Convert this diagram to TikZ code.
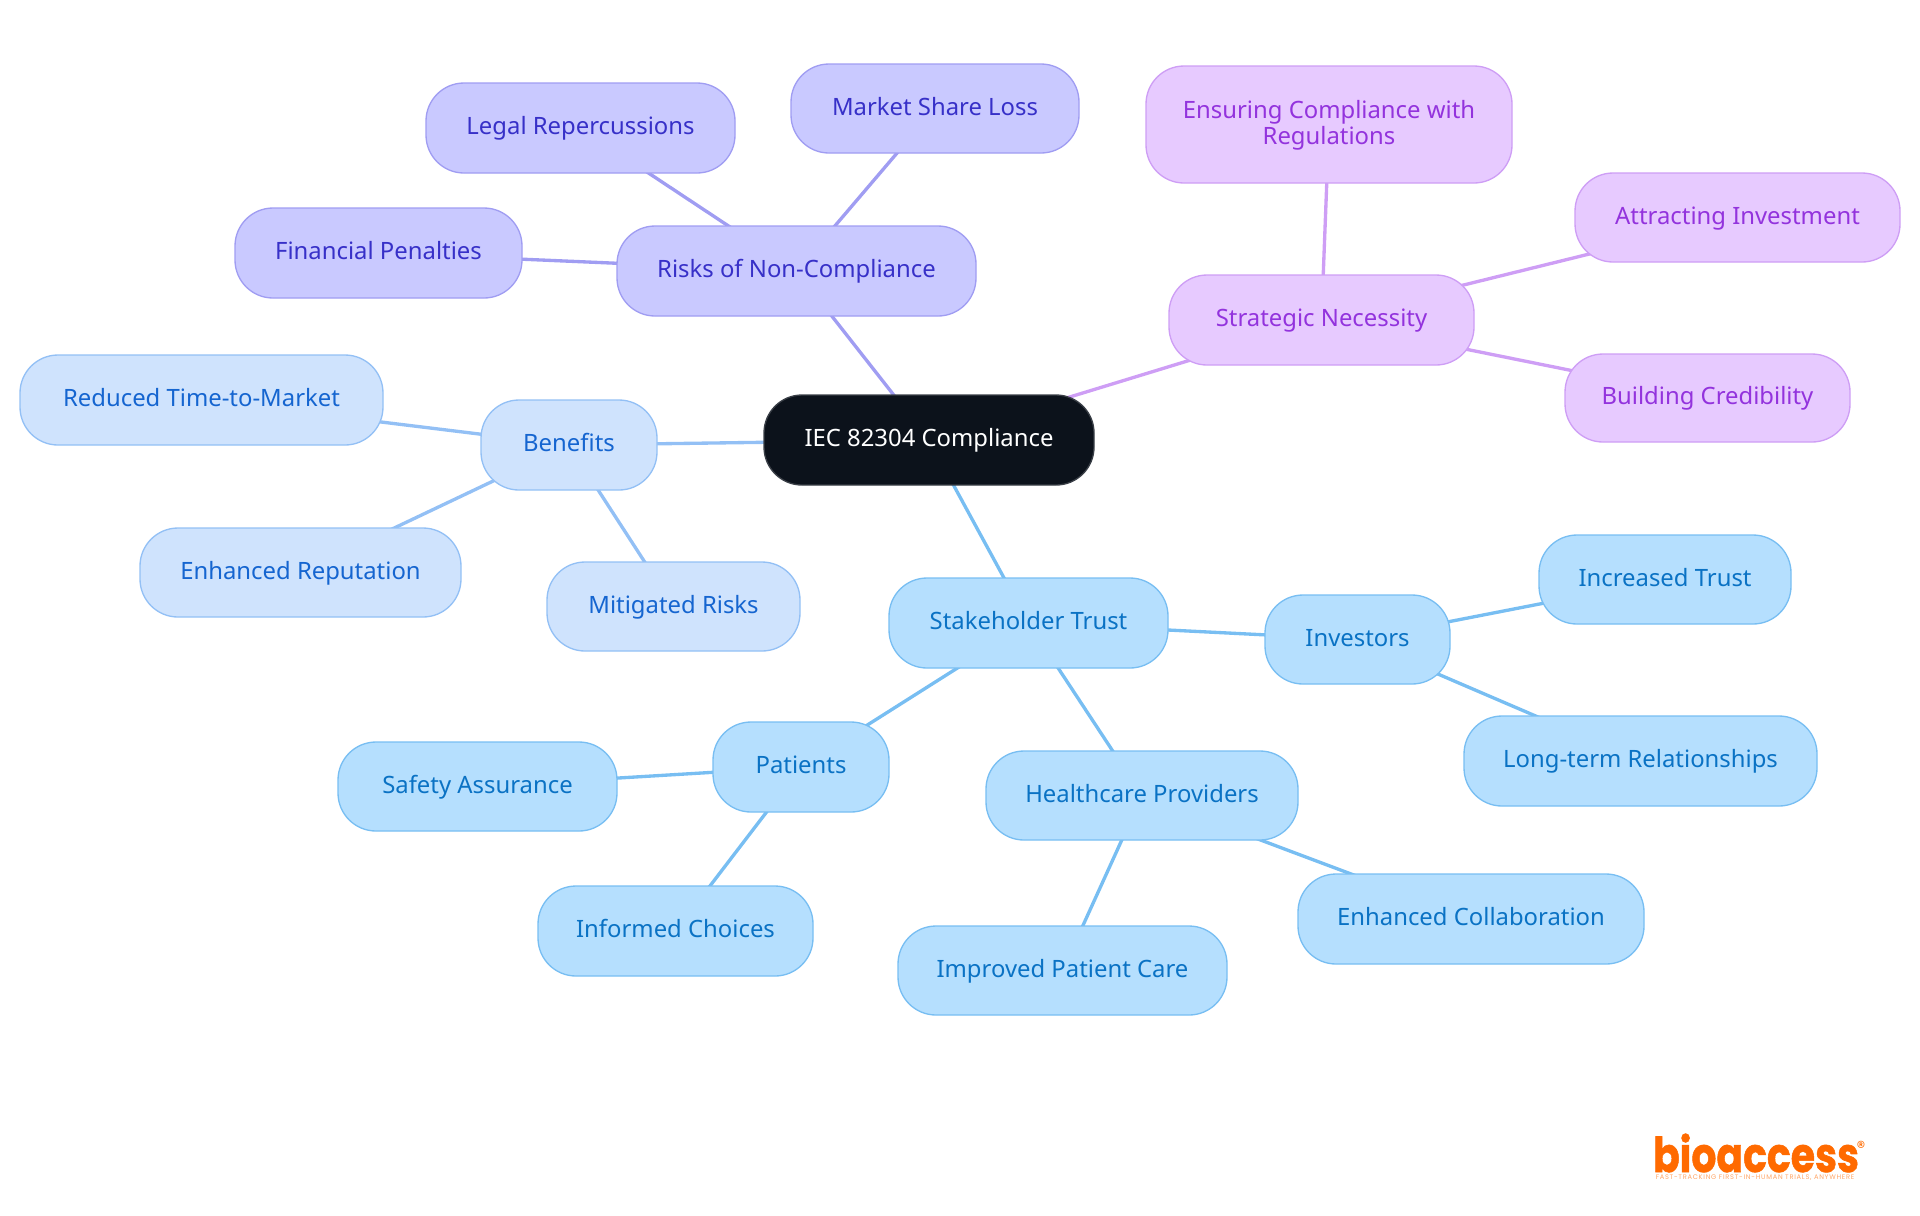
\documentclass[tikz,border=0pt]{standalone}
\usepackage{fontspec}
\setmainfont{Noto Sans}
\newfontfamily\logofont[FakeBold=1.2]{Poppins}
\newfontfamily\tagfont[LetterSpace=11]{Poppins}
\usetikzlibrary{backgrounds}
\definecolor{rootfill}{HTML}{0C121B}
\definecolor{rootline}{HTML}{3A3F47}
\definecolor{vfill}{HTML}{C9C9FF}
\definecolor{vline}{HTML}{A09DF2}
\definecolor{vtext}{HTML}{3730C8}
\definecolor{pfill}{HTML}{E7CAFF}
\definecolor{pline}{HTML}{CE9EF5}
\definecolor{ptext}{HTML}{9333DD}
\definecolor{bfill}{HTML}{CFE3FD}
\definecolor{bline}{HTML}{93C0F5}
\definecolor{btext}{HTML}{1565D0}
\definecolor{sfill}{HTML}{B5DFFE}
\definecolor{sline}{HTML}{78BEF2}
\definecolor{stext}{HTML}{0A72C4}
\definecolor{logoor}{HTML}{FF6A00}
\tikzset{
  x=0.75pt,y=-0.75pt,
  mm/.style={rectangle,rounded corners=28.5pt,line width=1pt,outer sep=0pt,inner sep=0pt,align=center,
    font=\fontsize{17.9}{19.5}\selectfont},
  oneline/.style={text height=13pt,text depth=3pt},
  rootn/.style={mm,oneline,fill=rootfill,draw=rootline,text=white},
  vn/.style={mm,oneline,fill=vfill,draw=vline,text=vtext},
  pn/.style={mm,oneline,fill=pfill,draw=pline,text=ptext},
  pntwo/.style={mm,fill=pfill,draw=pline,text=ptext},
  bn/.style={mm,oneline,fill=bfill,draw=bline,text=btext},
  sn/.style={mm,oneline,fill=sfill,draw=sline,text=stext},
  ve/.style={draw=vline,line width=2.5pt},
  pe/.style={draw=pline,line width=2.5pt},
  be/.style={draw=bline,line width=2.5pt},
  se/.style={draw=sline,line width=2.5pt},
}
\newcommand{\nd}[7]{%
  \pgfmathsetlengthmacro{\nw}{0.75pt*(#4-#2)}%
  \pgfmathsetlengthmacro{\nh}{0.75pt*(#5-#3)}%
  \node[#7,minimum width=\nw,minimum height=\nh] (#1) at ({(#2+#4)/2},{(#3+#5)/2}) {#6};%
}
\begin{document}
\begin{tikzpicture}
\useasboundingbox (0,0) rectangle (1920,1215);
\nd{root}{764}{395}{1094}{485}{IEC 82304 Compliance}{rootn}
\nd{risks}{617}{226}{976}{316}{Risks of Non-Compliance}{vn}
\nd{market}{791}{64}{1079}{153}{Market Share Loss}{vn}
\nd{legal}{426}{83}{735}{173}{Legal Repercussions}{vn}
\nd{fin}{235}{208}{522}{298}{Financial Penalties}{vn}
\nd{ens}{1146}{66}{1512}{183}{\rule{0pt}{14.5pt}Ensuring Compliance with\\Regulations}{pntwo}
\nd{strat}{1169}{275}{1474}{365}{Strategic Necessity}{pn}
\nd{attr}{1575}{173}{1900}{262}{Attracting Investment}{pn}
\nd{build}{1565}{354}{1850}{442}{Building Credibility}{pn}
\nd{ben}{481}{400}{657}{490}{Benefits}{bn}
\nd{red}{20}{355}{383}{445}{Reduced Time-to-Market}{bn}
\nd{rep}{140}{528}{461}{617}{Enhanced Reputation}{bn}
\nd{mit}{547}{562}{800}{651}{Mitigated Risks}{bn}
\nd{stake}{889}{578}{1168}{668}{Stakeholder Trust}{sn}
\nd{inv}{1265}{595}{1450}{684}{Investors}{sn}
\nd{inc}{1539}{535}{1791}{624}{Increased Trust}{sn}
\nd{long}{1464}{716}{1817}{806}{Long-term Relationships}{sn}
\nd{pat}{713}{722}{889}{812}{Patients}{sn}
\nd{saf}{338}{742}{617}{831}{Safety Assurance}{sn}
\nd{infm}{538}{886}{813}{976}{Informed Choices}{sn}
\nd{hc}{986}{751}{1298}{840}{Healthcare Providers}{sn}
\nd{imp}{898}{926}{1227}{1015}{Improved Patient Care}{sn}
\nd{col}{1298}{874}{1644}{964}{Enhanced Collaboration}{sn}
\begin{scope}[on background layer]
\draw[ve] (root.center) -- (risks.center);
\draw[ve] (risks.center) -- (market.center);
\draw[ve] (risks.center) -- (legal.center);
\draw[ve] (risks.center) -- (fin.center);
\draw[pe] (root.center) -- (strat.center);
\draw[pe] (strat.center) -- (ens.center);
\draw[pe] (strat.center) -- (attr.center);
\draw[pe] (strat.center) -- (build.center);
\draw[be] (root.center) -- (ben.center);
\draw[be] (ben.center) -- (red.center);
\draw[be] (ben.center) -- (rep.center);
\draw[be] (ben.center) -- (mit.center);
\draw[se] (root.center) -- (stake.center);
\draw[se] (stake.center) -- (inv.center);
\draw[se] (inv.center) -- (inc.center);
\draw[se] (inv.center) -- (long.center);
\draw[se] (stake.center) -- (pat.center);
\draw[se] (pat.center) -- (saf.center);
\draw[se] (pat.center) -- (infm.center);
\draw[se] (stake.center) -- (hc.center);
\draw[se] (hc.center) -- (imp.center);
\draw[se] (hc.center) -- (col.center);
\end{scope}
\node[text=logoor,inner sep=0pt,anchor=base,font=\logofont\bfseries\fontsize{36}{36}\selectfont] (logo) at (1756,1172) {\scalebox{.82}[1]{bioaccess}};
\node[text=logoor,inner sep=0pt,anchor=center,font=\tagfont\fontsize{13}{13}\selectfont] (reg) at (1861,1147) {®};
\node[text=logoor!60,inner sep=0pt,font=\tagfont\fontsize{5}{5}\selectfont] (tag) at (1755,1178) {FAST-TRACKING FIRST-IN-HUMAN TRIALS, ANYWHERE};
\end{tikzpicture}
\end{document}
